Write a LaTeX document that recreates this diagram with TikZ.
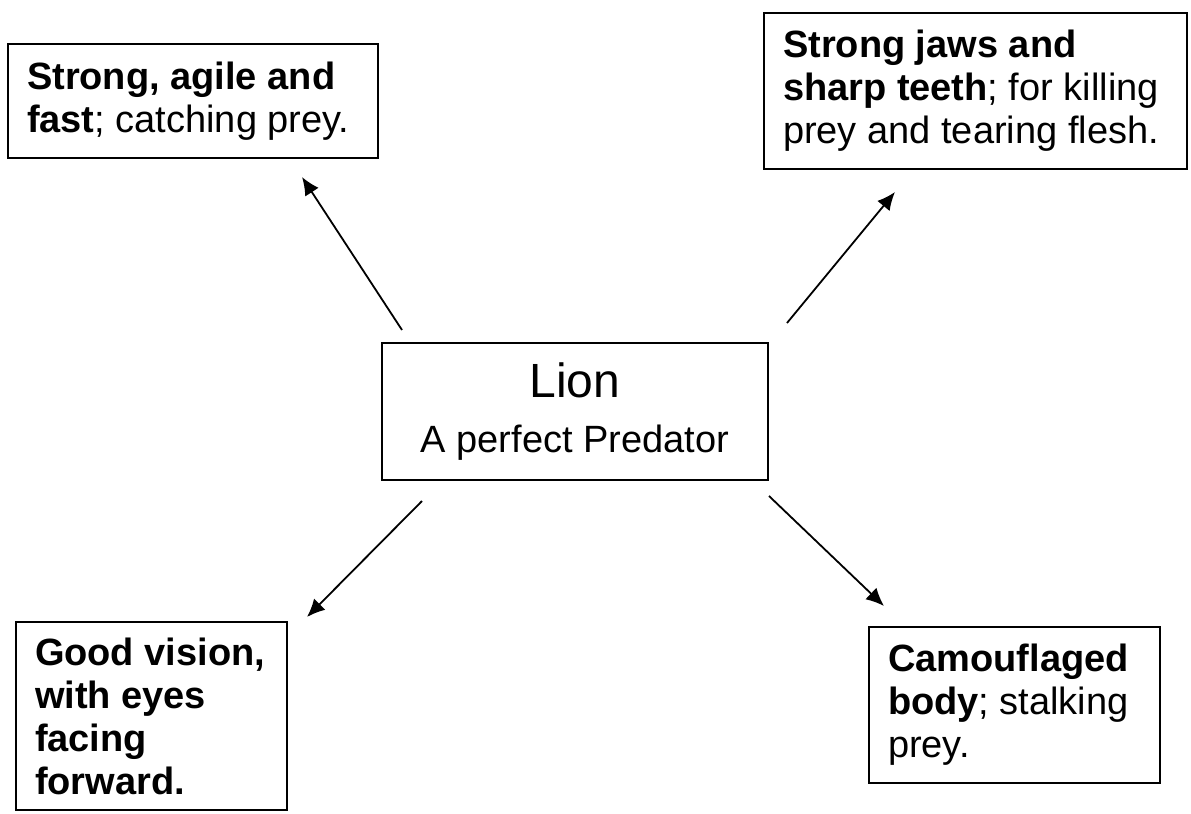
\documentclass[tikz,border=0pt]{standalone}
\usepackage{fontspec}
\setmainfont{Liberation Sans}
\usetikzlibrary{arrows.meta}

\begin{document}
\begin{tikzpicture}[x=0.5pt,y=-0.5pt]
  \useasboundingbox (0,0) rectangle (1191,814);
  \tikzstyle{BoxStyle}=[draw,line width=1pt,inner xsep=9.5pt,inner ysep=0pt,align=flush left,
    font=\fontsize{19}{21.5}\selectfont]
  \node[BoxStyle,minimum width=185pt,minimum height=57pt,text width=166pt] (agile) at (193,101)
    {\textbf{Strong, agile and}\\\textbf{fast}; catching prey.};
  \node[BoxStyle,minimum width=211.5pt,minimum height=78pt,text width=192.5pt] (jaws) at (975.5,91)
    {\textbf{Strong jaws and}\\\textbf{sharp teeth}; for killing\\prey and tearing flesh.};
  \node[BoxStyle,align=center,minimum width=193pt,minimum height=68.5pt,
    font=\fontsize{19}{27.5}\selectfont] (lion) at (575,411.5)
    {{\fontsize{24}{27.5}\selectfont Lion}\\A perfect Predator};
  \node[BoxStyle,minimum width=135.5pt,minimum height=94pt,text width=116.5pt] (vision) at (151.5,716)
    {\textbf{Good vision,}\\\textbf{with eyes}\\\textbf{facing}\\\textbf{forward.}};
  \node[BoxStyle,minimum width=145.5pt,minimum height=78pt,text width=126.5pt] (camo) at (1014.5,705)
    {\textbf{Camouflaged}\\\textbf{body}; stalking\\prey.};
  \coordinate (agileA) at (402,330);
  \coordinate (agileB) at (302,177);
  \coordinate (jawsA) at (787,323);
  \coordinate (jawsB) at (895,192);
  \coordinate (visionA) at (422,501);
  \coordinate (visionB) at (307,617);
  \coordinate (camoA) at (769,496);
  \coordinate (camoB) at (884,606);
  \tikzstyle{EdgeStyle}=[-{Latex[length=9pt,width=8pt]},line width=0.9pt]
  \draw[EdgeStyle] (agileA) -- (agileB);
  \draw[EdgeStyle] (jawsA) -- (jawsB);
  \draw[EdgeStyle] (visionA) -- (visionB);
  \draw[EdgeStyle] (camoA) -- (camoB);
\end{tikzpicture}
\end{document}
